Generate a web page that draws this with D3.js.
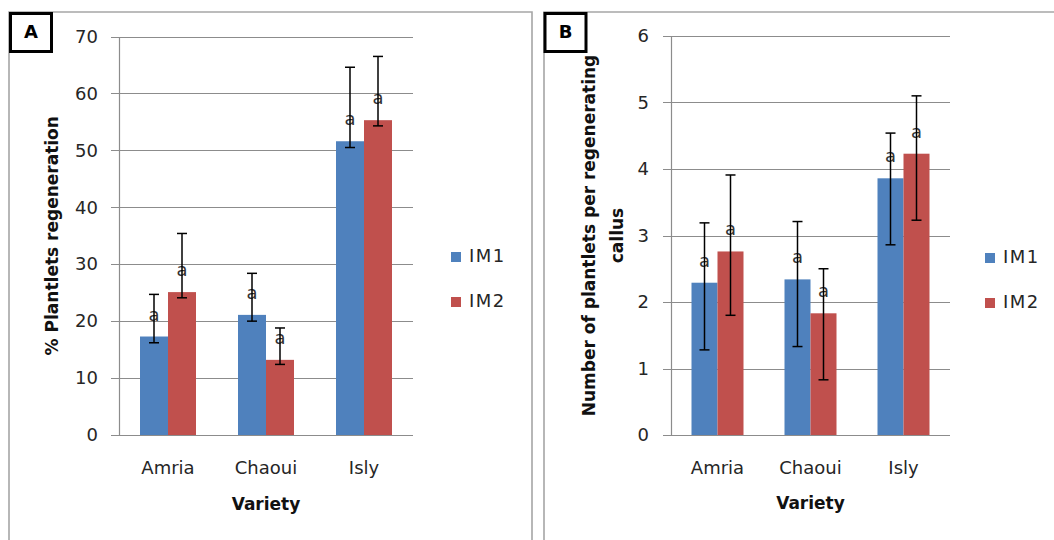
<!DOCTYPE html>
<html>
<head>
<meta charset="utf-8">
<script src="https://cdn.jsdelivr.net/npm/d3@7/dist/d3.min.js"></script>
<style>
  html, body { margin: 0; padding: 0; background: #fff; }
  svg { display: block; }
  text { font-family: "DejaVu Sans", sans-serif; }
</style>
</head>
<body>
<svg id="chart" width="1054" height="540"></svg>
<script>
// ---------- data ----------
const categories = ["Amria", "Chaoui", "Isly"];
const seriesNames = ["IM1", "IM2"];

// Panel A: % plantlets regeneration
const regenIM1 = [17.3, 21.1, 51.6];
const regenIM2 = [25.1, 13.2, 55.3];
const regenIM1Low = [16.2, 20.0, 50.5];
const regenIM1High = [24.7, 28.4, 64.6];
const regenIM2Low = [24.1, 12.4, 54.3];
const regenIM2High = [35.4, 18.8, 66.5];
const regenTicks = [0, 10, 20, 30, 40, 50, 60, 70];

// Panel B: number of plantlets per regenerating callus
const plantIM1 = [2.29, 2.34, 3.86];
const plantIM2 = [2.76, 1.83, 4.23];
const plantIM1Low = [1.28, 1.33, 2.86];
const plantIM1High = [3.19, 3.21, 4.54];
const plantIM2Low = [1.80, 0.83, 3.23];
const plantIM2High = [3.91, 2.50, 5.10];
const plantTicks = [0, 1, 2, 3, 4, 5, 6];

const lettersIM1 = ["a", "a", "a"];
const lettersIM2 = ["a", "a", "a"];

const colors = ["#4F81BD", "#C0504D"];

// ---------- drawing ----------
const svg = d3.select("#chart");

function panel(cfg) {
  const g = svg.append("g");
  // panel frame
  g.append("path")
    .attr("d", cfg.framePath)
    .attr("fill", "none").attr("stroke", "#a6a6a6").attr("stroke-width", 1.6);

  const y = d3.scaleLinear().domain([0, cfg.ticks[cfg.ticks.length - 1]]).range([cfg.bottom, cfg.top]);
  const x0 = d3.scaleBand().domain(categories).range([cfg.left, cfg.right]);
  const x1 = d3.scaleBand().domain(seriesNames).range([-cfg.barW, cfg.barW]);

  // gridlines + tick marks
  g.selectAll(".grid").data(cfg.ticks).join("line")
    .attr("x1", cfg.left - 8).attr("x2", cfg.right)
    .attr("y1", d => Math.round(y(d)) + 0.5).attr("y2", d => Math.round(y(d)) + 0.5)
    .attr("stroke", "#8c8c8c").attr("stroke-width", 1.2);

  // y axis via d3
  const yAxis = d3.axisLeft(y).tickValues(cfg.ticks).tickFormat(d3.format("d"))
    .tickSize(0).tickPadding(cfg.labelPad);
  const ya = g.append("g").attr("transform", `translate(${cfg.left},0)`).call(yAxis);
  ya.select(".domain").attr("stroke", "#8c8c8c").attr("stroke-width", 1.2);
  ya.selectAll("text").attr("font-size", 18).attr("fill", "#262626")
    .attr("font-family", "DejaVu Sans");

  // x axis
  const xAxis = d3.axisBottom(x0).tickSize(0).tickPadding(0);
  const xa = g.append("g").attr("transform", `translate(0,${cfg.bottom})`).call(xAxis);
  xa.select(".domain").attr("stroke", "#8c8c8c").attr("stroke-width", 1.2)
    .attr("d", `M${cfg.left - 8},0.5H${cfg.right}`);
  xa.selectAll("text").attr("font-size", 18).attr("fill", "#262626")
    .attr("font-family", "DejaVu Sans")
    .attr("dy", null).attr("y", 34).attr("dominant-baseline", "middle");

  // bars
  const rows = [];
  categories.forEach((c, i) => {
    cfg.series.forEach((s, j) => {
      rows.push({ cat: c, ser: seriesNames[j], v: s.values[i], lo: s.low[i], hi: s.high[i], lab: s.letters[i], color: colors[j] });
    });
  });
  const grp = g.append("g");
  grp.selectAll("rect").data(rows).join("rect")
    .attr("x", d => x0(d.cat) + x0.bandwidth() / 2 + x1(d.ser))
    .attr("width", x1.bandwidth())
    .attr("y", d => y(d.v))
    .attr("height", d => y(0) - y(d.v))
    .attr("fill", d => d.color);

  // letters
  grp.selectAll("text.lab").data(rows).join("text").attr("class", "lab")
    .attr("x", d => x0(d.cat) + x0.bandwidth() / 2 + x1(d.ser) + x1.bandwidth() / 2)
    .attr("y", d => y(d.v) - 21)
    .attr("text-anchor", "middle").attr("dominant-baseline", "middle")
    .attr("font-size", 18).attr("fill", "#333")
    .text(d => d.lab);

  // error bars
  const cx = d => x0(d.cat) + x0.bandwidth() / 2 + x1(d.ser) + x1.bandwidth() / 2;
  const eb = grp.selectAll("g.err").data(rows).join("g").attr("class", "err")
    .attr("stroke", "#000").attr("stroke-width", 1.5);
  eb.append("line").attr("x1", cx).attr("x2", cx).attr("y1", d => y(d.lo)).attr("y2", d => y(d.hi));
  eb.append("line").attr("x1", d => cx(d) - 5).attr("x2", d => cx(d) + 5).attr("y1", d => y(d.hi)).attr("y2", d => y(d.hi));
  eb.append("line").attr("x1", d => cx(d) - 5).attr("x2", d => cx(d) + 5).attr("y1", d => y(d.lo)).attr("y2", d => y(d.lo));

  // x title
  g.append("text").attr("x", (cfg.left + cfg.right) / 2).attr("y", cfg.xTitleY)
    .attr("text-anchor", "middle").attr("dominant-baseline", "middle")
    .attr("font-size", 17).attr("font-weight", "bold").attr("fill", "#111")
    .text("Variety");

  // y title
  const yt = g.append("text")
    .attr("transform", `translate(${cfg.yTitleX},${(cfg.top + cfg.bottom) / 2}) rotate(-90)`)
    .attr("text-anchor", "middle")
    .attr("font-size", 17).attr("font-weight", "bold").attr("fill", "#111");
  cfg.yTitle.forEach((t, i) => {
    yt.append("tspan").attr("x", 0).attr("y", i * cfg.yTitleGap).text(t);
  });

  // legend
  const lg = g.append("g").attr("transform", `translate(${cfg.legendX},${cfg.legendY})`);
  seriesNames.forEach((s, j) => {
    lg.append("rect").attr("x", 0).attr("y", j * 45 - 5).attr("width", 10).attr("height", 10).attr("fill", colors[j]);
    lg.append("text").attr("x", 18).attr("y", j * 45).attr("dominant-baseline", "middle")
      .attr("font-size", 18).attr("letter-spacing", 1.5).attr("fill", "#262626").text(s);
  });

  // panel letter box
  g.append("rect").attr("x", cfg.boxX).attr("y", 13.5).attr("width", 41).attr("height", 38)
    .attr("fill", "#fff").attr("stroke", "#000").attr("stroke-width", 3);
  g.append("text").attr("x", cfg.boxX + 20.5).attr("y", 33).attr("text-anchor", "middle")
    .attr("dominant-baseline", "middle").attr("font-size", 18).attr("font-weight", "bold")
    .attr("fill", "#000").text(cfg.letter);
}

panel({
  framePath: "M9,541V12H532V541",
  left: 119, right: 413, top: 36.5, bottom: 435, barW: 28, labelPad: 21,
  ticks: regenTicks,
  series: [
    { values: regenIM1, low: regenIM1Low, high: regenIM1High, letters: lettersIM1 },
    { values: regenIM2, low: regenIM2Low, high: regenIM2High, letters: lettersIM2 }
  ],
  xTitleY: 505,
  yTitle: ["% Plantlets regeneration"], yTitleX: 58, yTitleGap: 0,
  legendX: 451, legendY: 257,
  boxX: 10.5, letter: "A"
});

panel({
  framePath: "M544,541V12H1056",
  left: 671, right: 950, top: 36, bottom: 435, barW: 26, labelPad: 22,
  ticks: plantTicks,
  series: [
    { values: plantIM1, low: plantIM1Low, high: plantIM1High, letters: lettersIM1 },
    { values: plantIM2, low: plantIM2Low, high: plantIM2High, letters: lettersIM2 }
  ],
  xTitleY: 504,
  yTitle: ["Number of plantlets per regenerating", "callus"], yTitleX: 595, yTitleGap: 28,
  legendX: 985, legendY: 258,
  boxX: 545, letter: "B"
});
</script>
</body>
</html>
